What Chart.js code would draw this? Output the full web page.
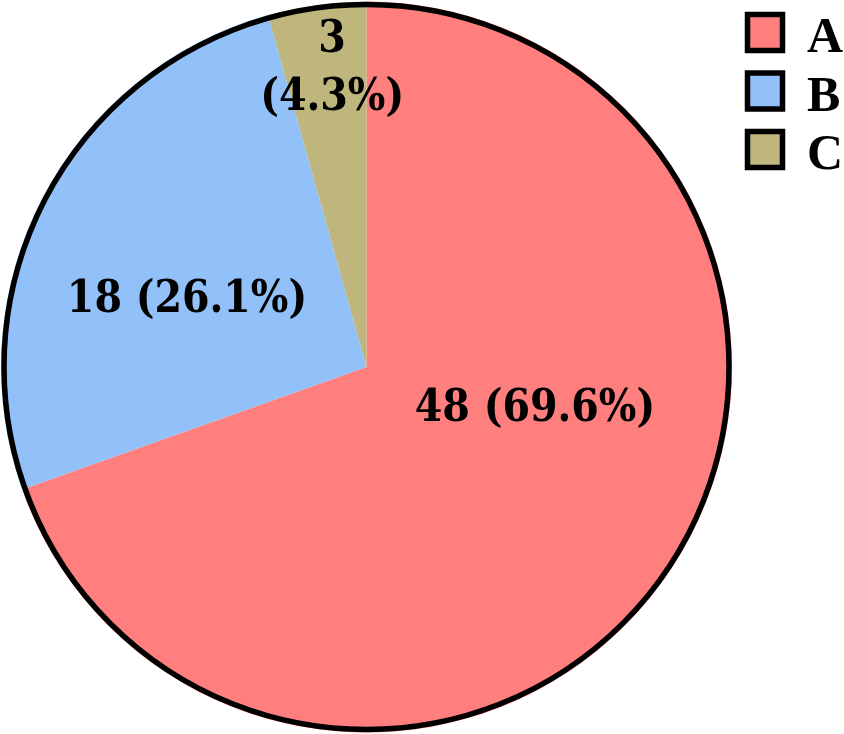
<!DOCTYPE html>
<html>
  <head>
    <meta charset="utf-8">
    <title>Pie</title>
    <script src="https://cdn.jsdelivr.net/npm/chart.js@4.4.0/dist/chart.umd.min.js"></script>
    <style>
      html, body { margin: 0; padding: 0; background: #fff; }
      #wrap { width: 844px; height: 734px; }
    </style>
  </head>
  <body>
    <div id="wrap"><canvas id="pie"></canvas></div>

    <script type="text/javascript">
      var LABELS = ["A", "B", "C"];
      var COUNTS = [48, 18, 3];
      var COLORS = ["#FF7F7F", "#92C1F9", "#BEB67D"];

      // where each slice label sits, as a fraction of the radius from the centre
      var LABEL_ANCHOR = [[0.461, 0.104], [-0.491, -0.194], [-0.094, -0.826]];
      var LABEL_SPLIT = [false, false, true];

      var total = COUNTS.reduce((a, b) => a + b, 0);

      function pct(v) {
        return (100 * v / total).toFixed(1) + "%";
      }

      var decorate = {
        id: "decorate",
        afterDatasetsDraw: function(chart) {
          var ctx = chart.ctx;
          var arc = chart.getDatasetMeta(0).data[0];
          var cx = arc.x, cy = arc.y, r = arc.outerRadius;

          // outer ring only, no lines between slices
          ctx.save();
          ctx.beginPath();
          ctx.arc(cx, cy, r - 3, 0, 2 * Math.PI);
          ctx.lineWidth = 5.5;
          ctx.strokeStyle = "#000";
          ctx.stroke();

          // slice labels
          ctx.fillStyle = "#000";
          ctx.font = "bold 44px 'DejaVu Serif Condensed', 'DejaVu Serif'";
          ctx.textAlign = "center";
          ctx.textBaseline = "alphabetic";
          var capHalf = 15.5;
          for (var i = 0; i != COUNTS.length; ++i) {
            var x = cx + LABEL_ANCHOR[i][0] * r;
            var y = cy + LABEL_ANCHOR[i][1] * r;
            if (LABEL_SPLIT[i]) {
              ctx.fillText(String(COUNTS[i]), x, y - 29 + capHalf);
              ctx.fillText("(" + pct(COUNTS[i]) + ")", x, y + 29 + capHalf);
            } else {
              ctx.fillText(COUNTS[i] + " (" + pct(COUNTS[i]) + ")", x, y + capHalf);
            }
          }

          // legend, top right
          ctx.font = "bold 50px 'Liberation Serif'";
          ctx.textAlign = "left";
          for (var j = 0; j != LABELS.length; ++j) {
            var top = 12 + j * 58.5;
            ctx.fillStyle = COLORS[j];
            ctx.fillRect(747.5, top + 2.5, 35, 36);
            ctx.lineWidth = 5.5;
            ctx.strokeStyle = "#000";
            ctx.strokeRect(747.5, top + 2.5, 35, 36);
            ctx.fillStyle = "#000";
            ctx.fillText(LABELS[j], 807, top + 40);
          }
          ctx.restore();
        }
      };

      new Chart(document.getElementById("pie"), {
        type: "pie",
        data: {
          labels: LABELS,
          datasets: [{
            data: COUNTS,
            backgroundColor: COLORS,
            borderWidth: 0
          }]
        },
        options: {
          responsive: true,
          maintainAspectRatio: false,
          animation: false,
          layout: { padding: { left: 1, right: 112, top: 1, bottom: 1 } },
          plugins: {
            legend: { display: false },
            tooltip: { enabled: false }
          }
        },
        plugins: [decorate]
      });
    </script>
  </body>
</html>
